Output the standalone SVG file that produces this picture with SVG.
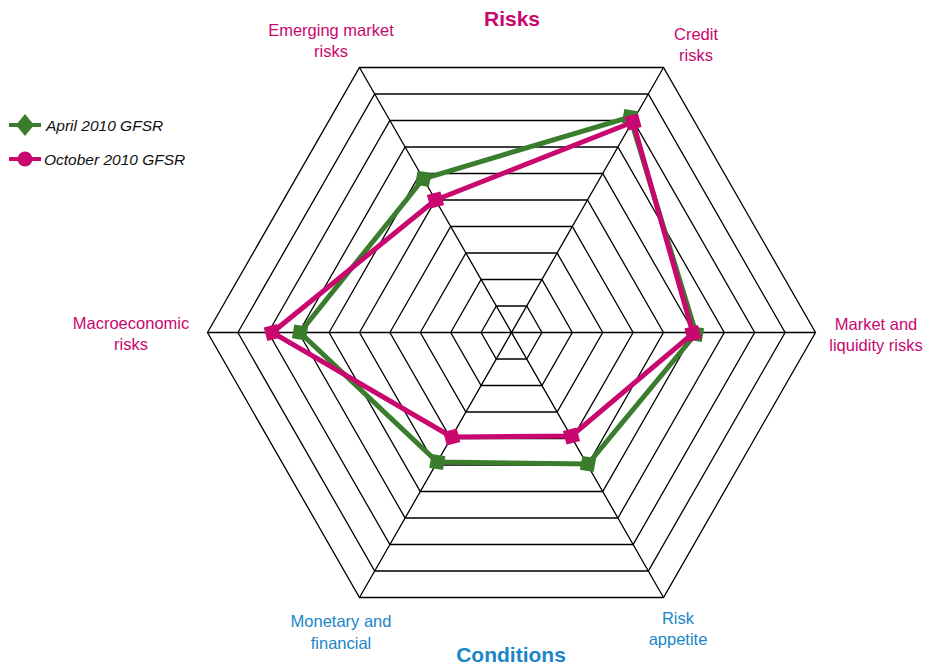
<svg xmlns="http://www.w3.org/2000/svg" width="927" height="665" viewBox="0 0 927 665">
<style>
.grid{fill:none;stroke:#000;stroke-width:1.3}
.lbl{font-family:"Liberation Sans",Arial,sans-serif;font-size:16.5px;fill:#c8076f;text-anchor:middle}
.blbl{font-family:"Liberation Sans",Arial,sans-serif;font-size:16.5px;fill:#1a86c8;text-anchor:middle}
.ttl{font-family:"Liberation Sans",Arial,sans-serif;font-size:21px;font-weight:bold;text-anchor:middle}
.leg{font-family:"Liberation Sans",Arial,sans-serif;font-size:15.5px;font-style:italic;fill:#111}
.gline{fill:none;stroke:#3a7d2c;stroke-width:5;stroke-linejoin:miter}
.pline{fill:none;stroke:#c8076f;stroke-width:5;stroke-linejoin:miter}
.gm{fill:#3a7d2c}
.pm{fill:#c8076f}
</style>
<defs>
<rect id="gsq" x="-7" y="-7" width="14" height="14"/>
<rect id="psq" x="-7" y="-7" width="14" height="14"/>
</defs>
<rect width="927" height="665" fill="#fff"/>
<g id="grid">
<polygon class="grid" points="481.1,332.5 496.3,306 526.7,306 541.9,332.5 526.7,359 496.3,359"/>
<polygon class="grid" points="450.7,332.5 481.1,279.5 541.9,279.5 572.3,332.5 541.9,385.5 481.1,385.5"/>
<polygon class="grid" points="420.3,332.5 465.9,253 557.1,253 602.7,332.5 557.1,412 465.9,412"/>
<polygon class="grid" points="389.9,332.5 450.7,226.5 572.3,226.5 633.1,332.5 572.3,438.5 450.7,438.5"/>
<polygon class="grid" points="359.5,332.5 435.5,200 587.5,200 663.5,332.5 587.5,465 435.5,465"/>
<polygon class="grid" points="329.1,332.5 420.3,173.5 602.7,173.5 693.9,332.5 602.7,491.5 420.3,491.5"/>
<polygon class="grid" points="298.7,332.5 405.1,147 617.9,147 724.3,332.5 617.9,518 405.1,518"/>
<polygon class="grid" points="268.3,332.5 389.9,120.5 633.1,120.5 754.7,332.5 633.1,544.5 389.9,544.5"/>
<polygon class="grid" points="237.9,332.5 374.7,94 648.3,94 785.1,332.5 648.3,571 374.7,571"/>
<polygon class="grid" points="207.5,332.5 359.5,67.5 663.5,67.5 815.5,332.5 663.5,597.5 359.5,597.5"/>
<path class="grid" d="M207.5,332.5 L815.5,332.5 M359.5,67.5 L663.5,597.5 M663.5,67.5 L359.5,597.5"/>
</g>
<g id="series-april">
<polygon class="gline" points="423.3,178.8 630,117 696,333.5 588,464 437.3,462 300,332.5"/>
<use href="#gsq" class="gm" transform="translate(423.3,178.8) rotate(10)"/>
<use href="#gsq" class="gm" transform="translate(630,117) rotate(10)"/>
<use href="#gsq" class="gm" transform="translate(696,334) rotate(10)"/>
<use href="#gsq" class="gm" transform="translate(588,464) rotate(10)"/>
<use href="#gsq" class="gm" transform="translate(437.3,462) rotate(10)"/>
<use href="#gsq" class="gm" transform="translate(300,332.5) rotate(10)"/>
</g>
<g id="series-october">
<polygon class="pline" points="435.5,200 633,122 693,333.5 571.5,436 451.8,437 272.3,332.5"/>
<use href="#psq" class="pm" transform="translate(435.5,200) rotate(-15)"/>
<use href="#psq" class="pm" transform="translate(633,122) rotate(-15)"/>
<use href="#psq" class="pm" transform="translate(693,333.5) rotate(-15)"/>
<use href="#psq" class="pm" transform="translate(571.5,436) rotate(-15)"/>
<use href="#psq" class="pm" transform="translate(451.8,437) rotate(-15)"/>
<use href="#psq" class="pm" transform="translate(272.3,332.5) rotate(-15)"/>
</g>
<g id="labels">
<text class="ttl" x="512" y="26" fill="#c8076f">Risks</text>
<text class="ttl" x="511" y="662" fill="#1a86c8">Conditions</text>
<text class="lbl" x="331" y="36">Emerging market</text>
<text class="lbl" x="331" y="57">risks</text>
<text class="lbl" x="696" y="40">Credit</text>
<text class="lbl" x="696" y="61">risks</text>
<text class="lbl" x="876" y="330">Market and</text>
<text class="lbl" x="876" y="351">liquidity risks</text>
<text class="lbl" x="131" y="329">Macroeconomic</text>
<text class="lbl" x="131" y="350">risks</text>
<text class="blbl" x="341" y="627">Monetary and</text>
<text class="blbl" x="341" y="649">financial</text>
<text class="blbl" x="678" y="624">Risk</text>
<text class="blbl" x="678" y="645">appetite</text>
</g>
<g id="legend">
<line x1="9" y1="125" x2="41" y2="125" stroke="#3a7d2c" stroke-width="4"/>
<polygon points="25,114 34,125 25,136 16,125" fill="#3a7d2c"/>
<text class="leg" x="46" y="131">April 2010 GFSR</text>
<line x1="9" y1="159" x2="41" y2="159" stroke="#c8076f" stroke-width="4"/>
<circle cx="25" cy="159" r="7.5" fill="#c8076f"/>
<text class="leg" x="44" y="165">October 2010 GFSR</text>
</g>
</svg>
